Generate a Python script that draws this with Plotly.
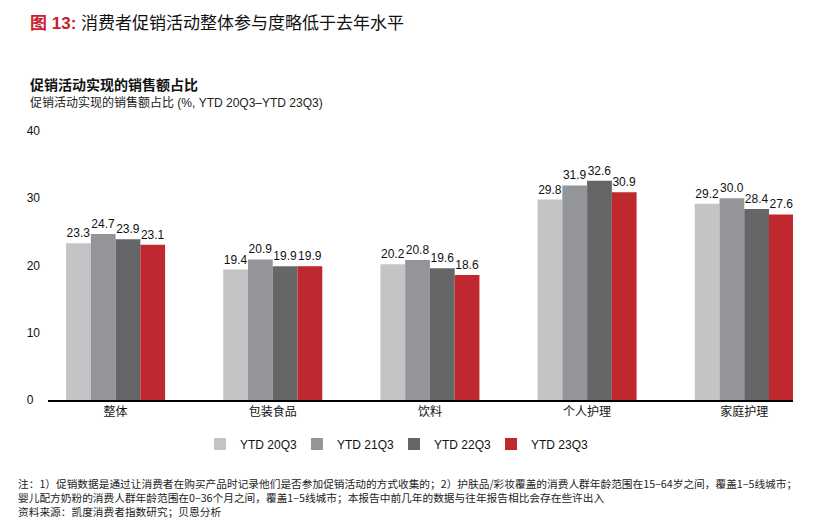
import plotly.graph_objects as go

categories = ["整体", "包装食品", "饮料", "个人护理", "家庭护理"]
series_names = ["YTD 20Q3", "YTD 21Q3", "YTD 22Q3", "YTD 23Q3"]
v20 = [23.3, 19.4, 20.2, 29.8, 29.2]
v21 = [24.7, 20.9, 20.8, 31.9, 30.0]
v22 = [23.9, 19.9, 19.6, 32.6, 28.4]
v23 = [23.1, 19.9, 18.6, 30.9, 27.6]
y_ticks = [0, 10, 20, 30, 40]

colors = ["#c3c4c6", "#939598", "#656668", "#be282e"]
FONT = "Liberation Sans, Arial, Noto Sans CJK SC, sans-serif"
CJK = "Noto Sans CJK SC, Liberation Sans, sans-serif"

L, R, T, B = 48, 45, 131, 126
W, H = 838, 526
pw, ph = W - L - R, H - T - B


def px(x):
    return (x - L) / pw


def py(y):
    return (H - B - y) / ph


fig = go.Figure()
for name, vals, c in zip(series_names, [v20, v21, v22, v23], colors):
    fig.add_trace(go.Bar(
        name=name, x=categories, y=vals, marker_color=c, marker_line_width=0,
        text=[f"{v:.1f}" for v in vals], textposition="outside",
        textfont=dict(size=12, color="#111111", family=FONT),
        cliponaxis=False,
    ))

fig.update_layout(
    width=W, height=H,
    margin=dict(l=L, r=R, t=T, b=B),
    paper_bgcolor="white", plot_bgcolor="white",
    barmode="group", bargap=0.37, bargroupgap=0,
    font=dict(family=FONT, size=12, color="#111111"),
    showlegend=True,
    legend=dict(orientation="h", x=px(200), xanchor="left", y=py(444), yanchor="middle",
                font=dict(size=12, family=FONT, color="#111111"), itemwidth=30,
                entrywidth=52, entrywidthmode="pixels",
                traceorder="normal"),
    xaxis=dict(range=[-0.43, 4.31], showline=True, linecolor="#000000", linewidth=2,
               ticks="", showgrid=False, zeroline=False,
               tickfont=dict(size=12, family=CJK, color="#111111")),
    yaxis=dict(range=[0, 40], tickvals=y_ticks,
               ticktext=["0\u2007"] + [str(t) for t in y_ticks[1:]],
               showgrid=False, zeroline=False, showline=False, ticks="",
               ticklabelstandoff=7,
               tickfont=dict(size=12, family=FONT, color="#111111")),
)

annos = [
    dict(x=px(28), y=py(24), text="<b><span style='color:#c8202f'>图 13:</span></b> 消费者促销活动整体参与度略低于去年水平",
         font=dict(size=17, family=FONT, color="#111111"), yanchor="middle"),
    dict(x=px(28), y=py(85), text="<b>促销活动实现的销售额占比</b>",
         font=dict(size=14, family=FONT, color="#111111"), yanchor="middle"),
    dict(x=px(28), y=py(102), text="促销活动实现的销售额占比 (%, YTD 20Q3–YTD 23Q3)",
         font=dict(size=12, family=FONT, color="#222222"), yanchor="middle"),
    dict(x=px(16), y=py(474), yanchor="top",
         text="注：1）促销数据是通过让消费者在购买产品时记录他们是否参加促销活动的方式收集的；2）护肤品/彩妆覆盖的消费人群年龄范围在15–64岁之间，覆盖1–5线城市；"
              "<br>婴儿配方奶粉的消费人群年龄范围在0–36个月之间，覆盖1–5线城市；本报告中前几年的数据与往年报告相比会存在些许出入"
              "<br>资料来源：凯度消费者指数研究；贝恩分析",
         font=dict(size=10.7, family=CJK, color="#222222")),
]
for a in annos:
    fig.add_annotation(xref="paper", yref="paper", xanchor="left",
                       showarrow=False, align="left", **a)

fig.write_html("out.html")
